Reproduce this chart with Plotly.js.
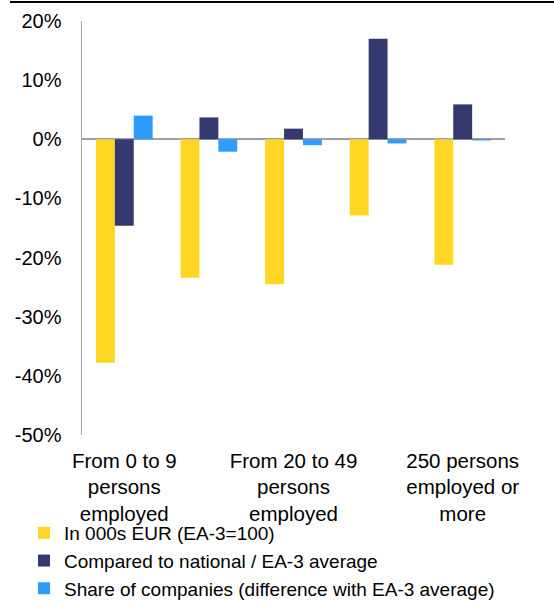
<!DOCTYPE html>
<html>
<head>
<meta charset="utf-8">
<script src="https://cdn.plot.ly/plotly-3.0.1.min.js"></script>
<style>
html,body{margin:0;padding:0;background:#fff;}
#chart{width:554px;height:604px;}
</style>
</head>
<body>
<div id="chart"></div>
<script>
const categories = [
  "From 0 to 9 persons employed",
  "From 10 to 19 persons employed",
  "From 20 to 49 persons employed",
  "From 50 to 249 persons employed",
  "250 persons employed or more"
];
const tickCategories = [categories[0], categories[2], categories[4]];
const tickLabels = [
  "From 0 to 9<br>persons<br>employed",
  "From 20 to 49<br>persons<br>employed",
  "250 persons<br>employed or<br>more"
];
const yTickValues = [-50, -40, -30, -20, -10, 0, 10, 20];
const yTickLabels = ["-50%", "-40%", "-30%", "-20%", "-10%", "0%", "10%", "20%"];
const seriesNames = [
  "In 000s EUR (EA-3=100)",
  "Compared to national / EA-3 average",
  "Share of companies (difference with EA-3 average)"
];
const inEur = [-37.8, -23.4, -24.5, -12.9, -21.2];
const comparedNational = [-14.6, 3.7, 1.8, 17.0, 5.9];
const shareCompanies = [4.0, -2.1, -1.0, -0.7, -0.2];
const colors = ["#FFD624", "#343A6E", "#2E9BFF"];

const values = [inEur, comparedNational, shareCompanies];
const traces = values.map((v, i) => ({
  type: "bar",
  name: seriesNames[i],
  x: categories,
  y: v,
  marker: {color: colors[i], line: {width: 0}},
  legendgroup: "g" + i,
  hoverinfo: "skip"
}));

const W = 554, H = 604;
const m = {l: 82, r: 49, t: 21, b: 169, autoexpand: false};
const pw = W - m.l - m.r, ph = H - m.t - m.b;
const family = "Liberation Sans, Arial, sans-serif";
const font = {family: family, size: 19, color: "#000"};

const layout = {
  width: W, height: H,
  margin: m,
  paper_bgcolor: "#fff", plot_bgcolor: "#fff",
  font: font,
  barmode: "group",
  bargap: 0.33,
  bargroupgap: 0,
  showlegend: true,
  legend: {
    x: (24 - m.l) / pw, xanchor: "left",
    y: 1 - (514 - m.t) / ph, yanchor: "top",
    orientation: "v",
    traceorder: "normal",
    tracegroupgap: 8,
    font: font,
    bgcolor: "rgba(0,0,0,0)",
    itemclick: false
  },
  xaxis: {
    type: "category",
    tickmode: "array",
    tickvals: tickCategories,
    ticktext: tickLabels,
    showline: false,
    showgrid: false,
    zeroline: false,
    ticks: "",
    ticklabelstandoff: 11,
    tickfont: {family: family, size: 20.5, color: "#000"}
  },
  yaxis: {
    range: [-50, 20],
    tickmode: "array",
    tickvals: yTickValues,
    ticktext: yTickLabels,
    showgrid: false,
    showline: true,
    linecolor: "#A6A6A6",
    linewidth: 1.5,
    zeroline: true,
    zerolinecolor: "#A0A0A0",
    zerolinewidth: 2,
    ticks: "",
    ticklabelstandoff: 15,
    tickfont: {family: family, size: 20, color: "#000"}
  },
  shapes: [{
    type: "rect", xref: "paper", yref: "paper", layer: "above",
    x0: (10 - m.l) / pw, x1: (W - m.l) / pw,
    y0: 1 + (m.t - 3) / ph, y1: 1 + (m.t - 1) / ph,
    fillcolor: "#000", line: {width: 0}
  }]
};

Plotly.newPlot("chart", traces, layout, {displayModeBar: false, staticPlot: true});
</script>
</body>
</html>
